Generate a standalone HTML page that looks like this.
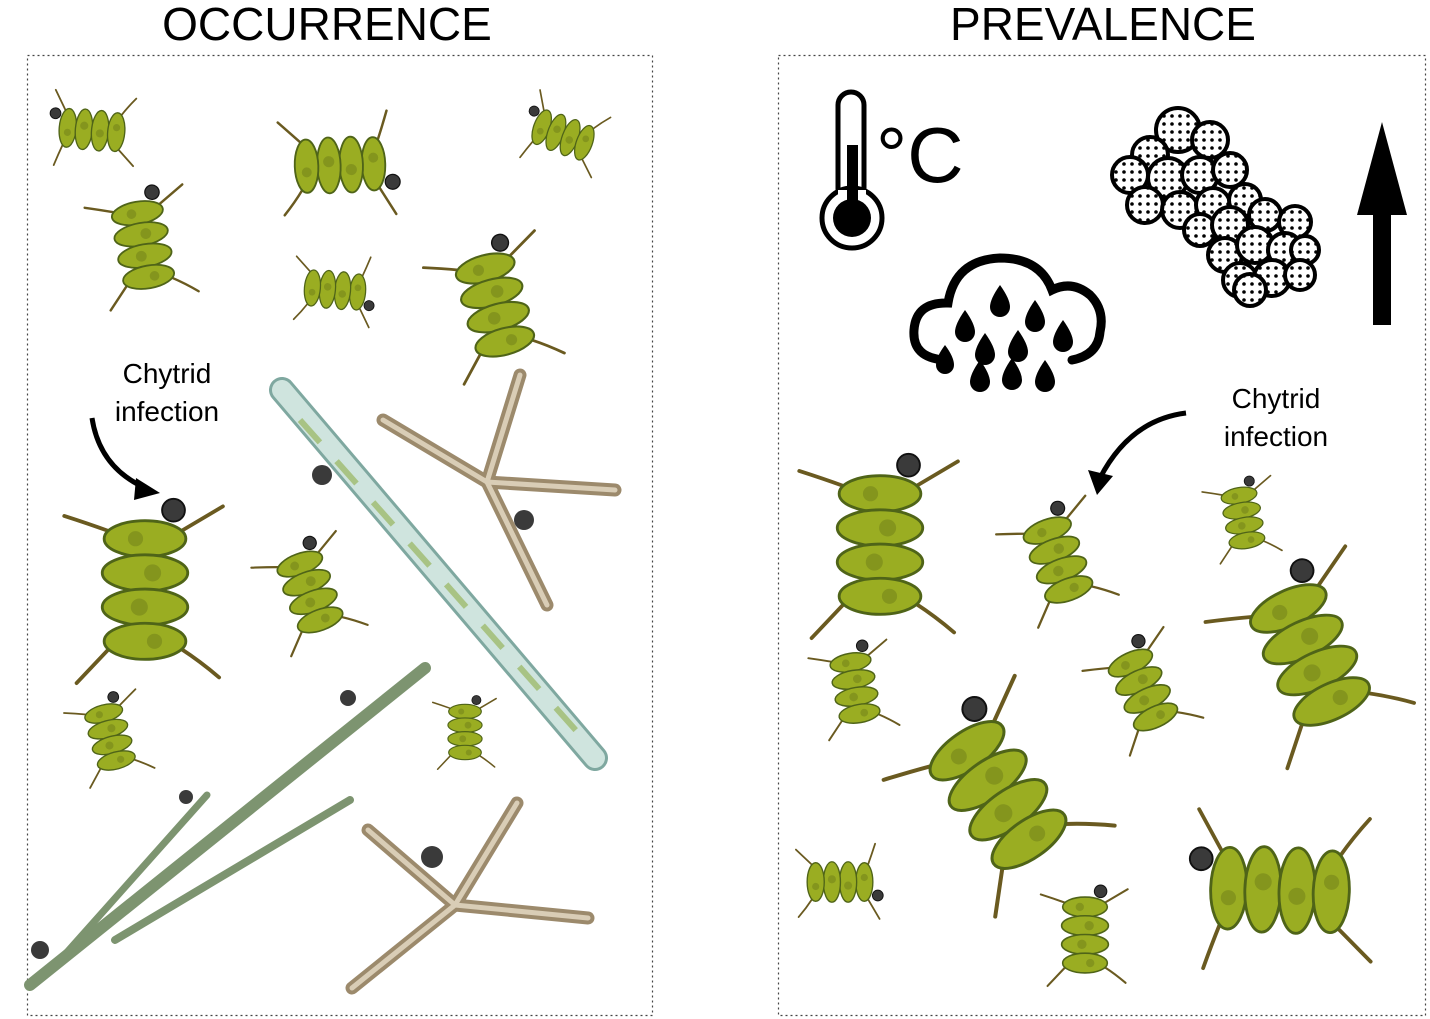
<!DOCTYPE html>
<html><head><meta charset="utf-8"><style>
html,body{margin:0;padding:0;background:#fff}
svg{display:block}
text{font-family:"Liberation Sans",Arial,sans-serif}
</style></head><body>
<svg width="1430" height="1019" viewBox="0 0 1430 1019" xmlns="http://www.w3.org/2000/svg">
<defs>
  <pattern id="dots" width="8" height="8" patternUnits="userSpaceOnUse">
    <rect width="8" height="8" fill="#fff"/>
    <circle cx="4" cy="4" r="1.8" fill="#000"/>
  </pattern>
  <g id="col">
    <g stroke="#6a5a20" stroke-width="4" fill="none" stroke-linecap="round">
      <path d="M-38,-62 Q-60,-70 -85,-78"/><path d="M38,-62 Q60,-75 82,-88"/>
      <path d="M-38,62 Q-55,80 -72,98"/><path d="M38,62 Q58,75 78,92"/>
    </g>
    <g fill="#9aad22" stroke="#4f6418" stroke-width="3">
      <ellipse cx="0" cy="-54" rx="43" ry="19"/>
      <ellipse cx="0" cy="-18" rx="45" ry="19"/>
      <ellipse cx="0" cy="18" rx="45" ry="19"/>
      <ellipse cx="0" cy="54" rx="43" ry="19"/>
    </g>
    <g fill="#76861a" opacity="0.6">
      <circle cx="-10" cy="-54" r="8"/><circle cx="8" cy="-18" r="9"/><circle cx="-6" cy="18" r="9"/><circle cx="10" cy="54" r="8"/>
    </g>
    <circle cx="30" cy="-84" r="12" fill="#3a3a3a" stroke="#111" stroke-width="2"/>
  </g>
</defs>

<text x="327" y="40" font-size="46" text-anchor="middle" fill="#000">OCCURRENCE</text>
<text x="1103" y="40" font-size="46" text-anchor="middle" fill="#000">PREVALENCE</text>

<rect x="27.5" y="55.5" width="625" height="960" fill="none" stroke="#444" stroke-width="1.2" stroke-dasharray="2,3"/>
<rect x="778.5" y="55.5" width="647" height="960" fill="none" stroke="#444" stroke-width="1.2" stroke-dasharray="2,3"/>

<line x1="282" y1="390" x2="595" y2="758" stroke="#7fa8a0" stroke-width="26" stroke-linecap="round"/>
<line x1="282" y1="390" x2="595" y2="758" stroke="#cfe4de" stroke-width="20" stroke-linecap="round"/>
<line x1="300" y1="420" x2="580" y2="735" stroke="#8fae4a" stroke-width="6" stroke-dasharray="30,25" opacity="0.6"/>
<circle cx="322" cy="475" r="10" fill="#3a3a3a"/>

<g stroke="#7d9470" stroke-linecap="round">
  <line x1="30" y1="985" x2="425" y2="668" stroke-width="12"/>
  <line x1="60" y1="960" x2="207" y2="795" stroke-width="7"/>
  <line x1="115" y1="940" x2="350" y2="800" stroke-width="8"/>
</g>
<circle cx="348" cy="698" r="8" fill="#3a3a3a"/>
<circle cx="186" cy="797" r="7" fill="#3a3a3a"/>
<circle cx="40" cy="950" r="9" fill="#3a3a3a"/>

<g stroke="#9c8a6c" stroke-width="13" stroke-linecap="round" fill="none">
  <line x1="487" y1="482" x2="383" y2="420"/>
  <line x1="487" y1="482" x2="520" y2="375"/>
  <line x1="487" y1="482" x2="615" y2="490"/>
  <line x1="487" y1="482" x2="547" y2="605"/>
  <line x1="455" y1="905" x2="368" y2="830"/>
  <line x1="455" y1="905" x2="517" y2="803"/>
  <line x1="455" y1="905" x2="588" y2="918"/>
  <line x1="455" y1="905" x2="352" y2="988"/>
</g>
<g stroke="#d9cdb6" stroke-width="5" stroke-linecap="round" fill="none">
  <line x1="487" y1="482" x2="383" y2="420"/>
  <line x1="487" y1="482" x2="520" y2="375"/>
  <line x1="487" y1="482" x2="615" y2="490"/>
  <line x1="487" y1="482" x2="547" y2="605"/>
  <line x1="455" y1="905" x2="368" y2="830"/>
  <line x1="455" y1="905" x2="517" y2="803"/>
  <line x1="455" y1="905" x2="588" y2="918"/>
  <line x1="455" y1="905" x2="352" y2="988"/>
</g>
<circle cx="524" cy="520" r="10" fill="#3a3a3a"/>
<circle cx="432" cy="857" r="11" fill="#3a3a3a"/>

<use href="#col" transform="translate(92,130) rotate(-85) scale(0.45)"/>
<use href="#col" transform="translate(340,165) rotate(88) scale(0.62)"/>
<use href="#col" transform="translate(563,135) rotate(-70) scale(0.42)"/>
<use href="#col" transform="translate(143,245) rotate(-10) scale(0.6)"/>
<use href="#col" transform="translate(335,290) rotate(95) scale(0.42)"/>
<use href="#col" transform="translate(495,305) rotate(-15) scale(0.7)"/>
<use href="#col" transform="translate(145,590) rotate(0) scale(0.95)"/>
<use href="#col" transform="translate(310,592) rotate(-20) scale(0.55)"/>
<use href="#col" transform="translate(110,737) rotate(-15) scale(0.45)"/>
<use href="#col" transform="translate(465,732) rotate(0) scale(0.38)"/>

<text x="167" y="383" font-size="28" text-anchor="middle">Chytrid</text>
<text x="167" y="421" font-size="28" text-anchor="middle">infection</text>
<path d="M92,418 Q100,470 150,490" fill="none" stroke="#000" stroke-width="5"/>
<path d="M136,478 L160,493 L134,500 Z" fill="#000"/>

<g>
  <rect x="838" y="92" width="26" height="110" rx="13" fill="#fff" stroke="#000" stroke-width="5"/>
  <circle cx="852" cy="218" r="30" fill="#fff" stroke="#000" stroke-width="5"/>
  <rect x="838" y="190" width="28" height="12" fill="#fff"/>
  <circle cx="852" cy="218" r="19" fill="#000"/>
  <rect x="847" y="145" width="11" height="70" fill="#000"/>
</g>
<text x="876" y="182" font-size="78" fill="#000">°C</text>

<path d="M945,360 Q912,358 914,330 Q916,302 948,303 Q955,260 1000,258 Q1040,258 1052,290 Q1072,280 1090,295 Q1105,310 1100,332 Q1098,355 1072,360" fill="none" stroke="#000" stroke-width="9" stroke-linecap="round"/>
<g fill="#000">
  <path d="M1000,285 q-10,14 -10,22 a10,10 0 0 0 20,0 q0,-8 -10,-22z"/>
  <path d="M965,310 q-10,14 -10,22 a10,10 0 0 0 20,0 q0,-8 -10,-22z"/>
  <path d="M1035,300 q-10,14 -10,22 a10,10 0 0 0 20,0 q0,-8 -10,-22z"/>
  <path d="M1063,320 q-10,14 -10,22 a10,10 0 0 0 20,0 q0,-8 -10,-22z"/>
  <path d="M985,333 q-10,14 -10,22 a10,10 0 0 0 20,0 q0,-8 -10,-22z"/>
  <path d="M1018,330 q-10,14 -10,22 a10,10 0 0 0 20,0 q0,-8 -10,-22z"/>
  <path d="M945,345 q-9,12 -9,20 a9,9 0 0 0 18,0 q0,-8 -9,-20z"/>
  <path d="M980,360 q-10,14 -10,22 a10,10 0 0 0 20,0 q0,-8 -10,-22z"/>
  <path d="M1045,360 q-10,14 -10,22 a10,10 0 0 0 20,0 q0,-8 -10,-22z"/>
  <path d="M1012,358 q-10,14 -10,22 a10,10 0 0 0 20,0 q0,-8 -10,-22z"/>
</g>

<g fill="url(#dots)" stroke="#000" stroke-width="4">
  <circle cx="1178" cy="130" r="22"/><circle cx="1210" cy="140" r="18"/><circle cx="1150" cy="155" r="18"/>
  <circle cx="1130" cy="175" r="18"/><circle cx="1168" cy="178" r="20"/><circle cx="1200" cy="175" r="18"/><circle cx="1230" cy="170" r="17"/>
  <circle cx="1145" cy="205" r="18"/><circle cx="1180" cy="210" r="18"/><circle cx="1213" cy="205" r="17"/><circle cx="1245" cy="200" r="16"/>
  <circle cx="1200" cy="230" r="16"/><circle cx="1230" cy="225" r="18"/><circle cx="1265" cy="215" r="16"/><circle cx="1295" cy="222" r="16"/>
  <circle cx="1225" cy="255" r="17"/><circle cx="1255" cy="245" r="18"/><circle cx="1285" cy="250" r="17"/><circle cx="1305" cy="250" r="14"/>
  <circle cx="1240" cy="280" r="17"/><circle cx="1272" cy="278" r="18"/><circle cx="1300" cy="275" r="15"/>
  <circle cx="1250" cy="290" r="16"/>
</g>

<rect x="1373" y="190" width="18" height="135" fill="#000"/>
<path d="M1357,215 L1382,122 L1407,215 Z" fill="#000"/>

<text x="1276" y="408" font-size="28" text-anchor="middle">Chytrid</text>
<text x="1276" y="446" font-size="28" text-anchor="middle">infection</text>
<path d="M1186,413 Q1130,420 1100,478" fill="none" stroke="#000" stroke-width="5"/>
<path d="M1088,470 L1097,495 L1113,476 Z" fill="#000"/>

<use href="#col" transform="translate(880,545) rotate(0) scale(0.95)"/>
<use href="#col" transform="translate(1058,560) rotate(-20) scale(0.58)"/>
<use href="#col" transform="translate(1243,518) rotate(-10) scale(0.42)"/>
<use href="#col" transform="translate(1310,655) rotate(-25) scale(0.95)"/>
<use href="#col" transform="translate(855,688) rotate(-10) scale(0.48)"/>
<use href="#col" transform="translate(1143,690) rotate(-25) scale(0.55)"/>
<use href="#col" transform="translate(998,795) rotate(-35) scale(1.0)"/>
<use href="#col" transform="translate(840,882) rotate(90) scale(0.45)"/>
<use href="#col" transform="translate(1085,935) rotate(0) scale(0.52)"/>
<use href="#col" transform="translate(1280,890) rotate(-88) scale(0.95)"/>
</svg>
</body></html>
